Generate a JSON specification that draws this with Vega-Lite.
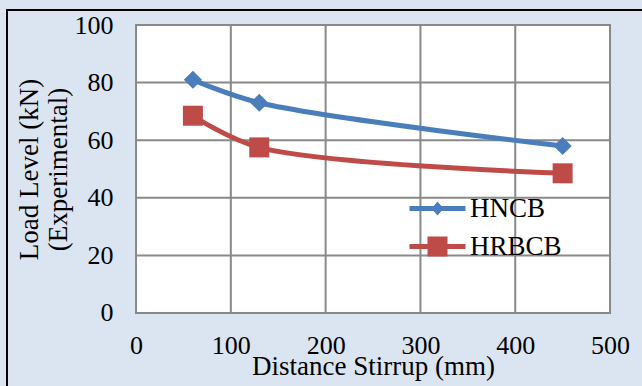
{
  "$schema": "https://vega.github.io/schema/vega-lite/v6.json",
  "width": 640,
  "height": 380,
  "autosize": {"type": "none"},
  "padding": {"left": 7, "top": 10, "right": 0, "bottom": 0},
  "background": "#dbe5f1",
  "config": {
    "view": {"fill": "#dbe5f1", "stroke": "#000000", "strokeWidth": 2},
    "font": "Liberation Serif",
    "axis": {
      "domain": false, "ticks": false, "tickSize": 0, "grid": false,
      "labelFont": "Liberation Serif", "labelFontSize": 26, "labelColor": "#000000",
      "titleFont": "Liberation Serif", "titleFontSize": 27, "titleFontWeight": "normal", "titleColor": "#000000",
      "labelOverlap": false, "labelFlush": false
    },
    "legend": {
      "labelFont": "Liberation Serif", "labelFontSize": 27, "labelColor": "#000000",
      "labelOffset": 19, "rowPadding": 10, "symbolStrokeWidth": 0, "symbolSize": 400, "title": null
    }
  },
  "datasets": {
    "main": [
      {"series": "HNCB", "distance": 60, "load": 81},
      {"series": "HNCB", "distance": 130, "load": 73},
      {"series": "HNCB", "distance": 450, "load": 58},
      {"series": "HRBCB", "distance": 60, "load": 68.5},
      {"series": "HRBCB", "distance": 130, "load": 57.5},
      {"series": "HRBCB", "distance": 450, "load": 48.5}
    ]
  },
  "layer": [
    {
      "data": {"values": [{}]},
      "mark": {"type": "rect", "fill": "#ffffff", "stroke": "#898989", "strokeWidth": 2},
      "encoding": {
        "x": {"datum": 0, "type": "quantitative", "scale": {"domain": [-136.1, 539.0], "nice": false, "zero": false}},
        "x2": {"datum": 500},
        "y": {"datum": 0, "type": "quantitative", "scale": {"domain": [-26.74, 105.21], "nice": false, "zero": false}},
        "y2": {"datum": 100}
      }
    },
    {
      "data": {"values": [{"gx": 100}, {"gx": 200}, {"gx": 300}, {"gx": 400}]},
      "mark": {"type": "rule", "stroke": "#898989", "strokeWidth": 2},
      "encoding": {
        "x": {"field": "gx", "type": "quantitative", "scale": {"domain": [-136.1, 539.0], "nice": false, "zero": false}},
        "y": {"datum": 0, "type": "quantitative", "scale": {"domain": [-26.74, 105.21], "nice": false, "zero": false}},
        "y2": {"datum": 100}
      }
    },
    {
      "data": {"values": [{"gy": 20}, {"gy": 40}, {"gy": 60}, {"gy": 80}]},
      "mark": {"type": "rule", "stroke": "#898989", "strokeWidth": 2},
      "encoding": {
        "y": {"field": "gy", "type": "quantitative", "scale": {"domain": [-26.74, 105.21], "nice": false, "zero": false}},
        "x": {"datum": 0, "type": "quantitative", "scale": {"domain": [-136.1, 539.0], "nice": false, "zero": false}},
        "x2": {"datum": 500}
      }
    },
    {
      "data": {"name": "main"},
      "mark": {"type": "line", "interpolate": "catmull-rom", "strokeWidth": 5, "strokeCap": "round"},
      "encoding": {
        "x": {"field": "distance", "type": "quantitative",
          "scale": {"domain": [-136.1, 539.0], "nice": false, "zero": false},
          "axis": {"values": [0, 100, 200, 300, 400, 500], "labelPadding": -58,
            "title": "Distance Stirrup (mm)", "titleX": 366, "titleY": -37, "titleAlign": "center", "titleBaseline": "top"}},
        "y": {"field": "load", "type": "quantitative",
          "scale": {"domain": [-26.74, 105.21], "nice": false, "zero": false},
          "axis": {"values": [0, 20, 40, 60, 80, 100], "labelPadding": -106,
            "title": ["Load Level (kN)", "(Experimental)"], "titleX": 9, "titleY": 159, "titleAngle": -90,
            "titleAlign": "center", "titleBaseline": "top", "titleLineHeight": 29}},
        "color": {"field": "series", "type": "nominal",
          "scale": {"domain": ["HNCB", "HRBCB"], "range": ["#4a7ebb", "#be4b48"]}, "legend": null}
      }
    },
    {
      "data": {"name": "main"},
      "mark": {"type": "point", "filled": true, "opacity": 1, "strokeWidth": 0},
      "encoding": {
        "x": {"field": "distance", "type": "quantitative", "scale": {"domain": [-136.1, 539.0], "nice": false, "zero": false}},
        "y": {"field": "load", "type": "quantitative", "scale": {"domain": [-26.74, 105.21], "nice": false, "zero": false}},
        "color": {"field": "series", "type": "nominal",
          "scale": {"domain": ["HNCB", "HRBCB"], "range": ["#4a7ebb", "#be4b48"]}, "legend": null},
        "shape": {"field": "series", "type": "nominal",
          "scale": {"domain": ["HNCB", "HRBCB"], "range": ["diamond", "square"]}, "legend": null},
        "size": {"field": "series", "type": "ordinal",
          "scale": {"domain": ["HNCB", "HRBCB"], "range": [330, 400]}, "legend": null}
      }
    },
    {
      "data": {"name": "main"},
      "transform": [{"filter": "datum.load < 0"}],
      "mark": {"type": "point", "filled": true, "opacity": 1, "strokeWidth": 0, "size": 400},
      "encoding": {
        "x": {"field": "distance", "type": "quantitative", "scale": {"domain": [-136.1, 539.0], "nice": false, "zero": false}},
        "y": {"field": "load", "type": "quantitative", "scale": {"domain": [-26.74, 105.21], "nice": false, "zero": false}},
        "color": {"field": "series", "type": "nominal",
          "scale": {"domain": ["HNCB", "HRBCB"], "range": ["#4a7ebb", "#be4b48"]},
          "legend": {"orient": "none", "legendX": 417, "legendY": 185}},
        "shape": {"field": "series", "type": "nominal",
          "scale": {"domain": ["HNCB", "HRBCB"], "range": [
            "M-2.8,-0.25L2.8,-0.25L2.8,0.25L-2.8,0.25Z M-0.6,0L0,-0.7L0.6,0L0,0.7Z",
            "M-2.8,-0.25L2.8,-0.25L2.8,0.25L-2.8,0.25Z M-1,-1L1,-1L1,1L-1,1Z"]},
          "legend": {"orient": "none", "legendX": 417, "legendY": 185}}
      }
    }
  ],
  "resolve": {"scale": {"color": "independent", "shape": "independent", "size": "independent"}}
}
